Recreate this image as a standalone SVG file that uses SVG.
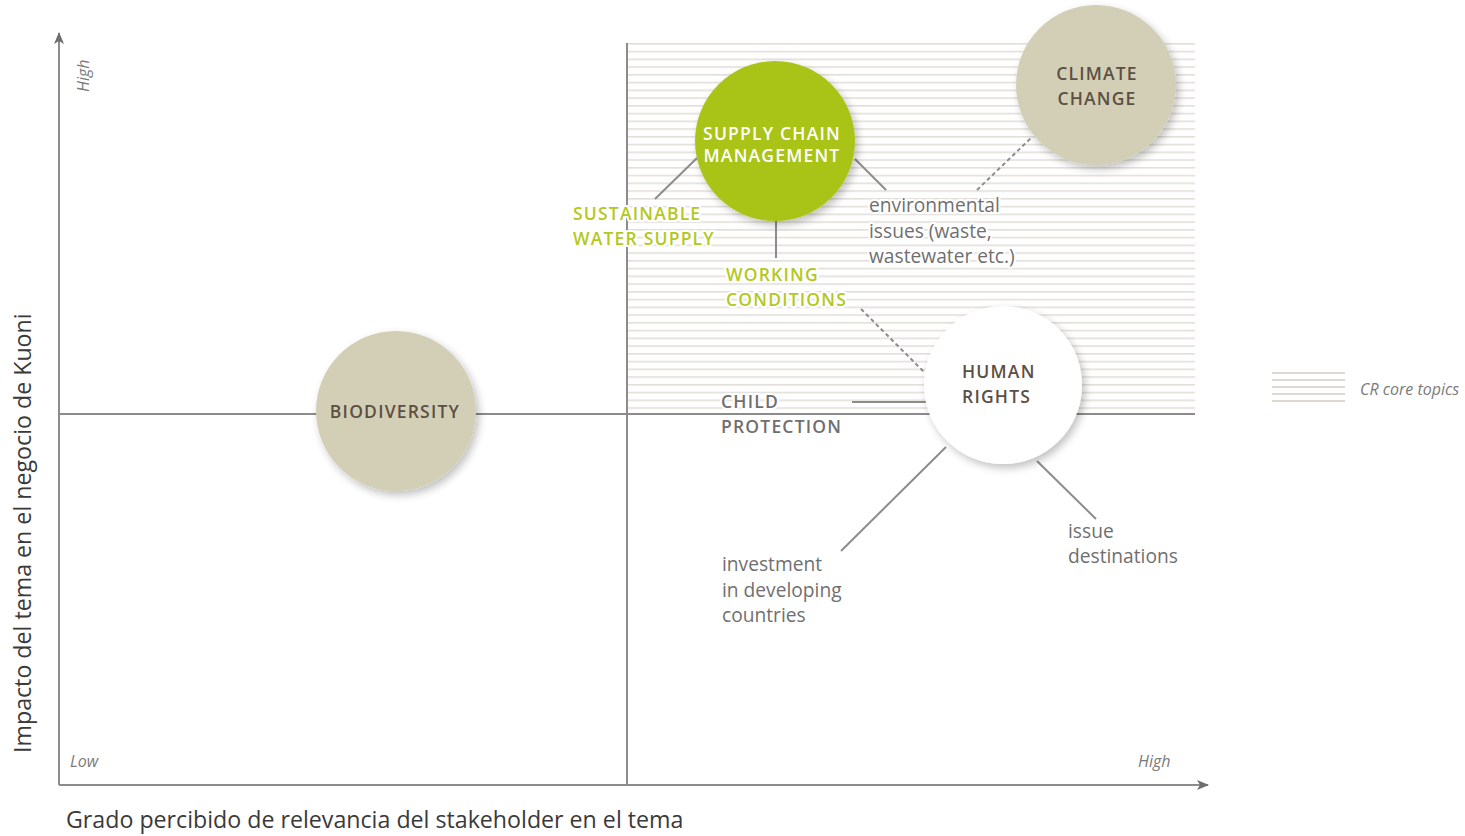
<svg xmlns="http://www.w3.org/2000/svg" width="1465" height="836" viewBox="0 0 1465 836">
<defs>
<pattern id="hatch" x="0" y="43" width="10" height="7.75" patternUnits="userSpaceOnUse">
<rect x="0" y="0" width="10" height="1.6" fill="#e3dfd9"/>
</pattern>
<marker id="arr" viewBox="0 0 12 10" refX="11" refY="5" markerWidth="12" markerHeight="10" markerUnits="userSpaceOnUse" orient="auto">
<path d="M0,0 L12,5 L0,10 L3,5 Z" fill="#6e6e6e"/>
</marker>
<filter id="shadow" x="-20%" y="-20%" width="150%" height="150%">
<feGaussianBlur in="SourceAlpha" stdDeviation="4"/>
<feOffset dx="3" dy="4" result="b"/>
<feComponentTransfer><feFuncA type="linear" slope="0.25"/></feComponentTransfer>
<feMerge><feMergeNode/><feMergeNode in="SourceGraphic"/></feMerge>
</filter>
</defs>
<style>
.ax{stroke:#8c8c8c;stroke-width:2;fill:none}
.con{stroke:#8c8c8c;stroke-width:2;fill:none}
.dash{stroke:#8c8c8c;stroke-width:2;fill:none;stroke-dasharray:4 3}
.cap{font-family:"Open Sans","DejaVu Sans",sans-serif;font-weight:600;font-size:17.5px;letter-spacing:1.2px}
.green{fill:#b3c822;stroke:#fff;stroke-width:4;paint-order:stroke;stroke-linejoin:round}
.dark{fill:#5c4f43}
.white{fill:#fff}
.gray{font-family:"Open Sans","DejaVu Sans",sans-serif;font-size:19.2px;fill:#6f6f6f}
.halo{stroke:#fff;stroke-width:4;paint-order:stroke;stroke-linejoin:round}
.it{font-family:"Open Sans","DejaVu Sans",sans-serif;font-style:italic;font-size:16px;fill:#7a7a7a}
.title{font-family:"Open Sans","DejaVu Sans",sans-serif;font-size:23.2px;fill:#3a3a3a}
</style>
<rect width="1465" height="836" fill="#fff"/>
<g id="core-area">
<rect x="628" y="43" width="567" height="370" fill="url(#hatch)"/>
</g>
<g id="axes">
<line class="ax" x1="59" y1="785" x2="59" y2="33" marker-end="url(#arr)"/>
<line class="ax" x1="59" y1="785" x2="1208" y2="785" marker-end="url(#arr)"/>
<line class="ax" x1="627" y1="43" x2="627" y2="785"/>
<line class="ax" x1="59" y1="414" x2="1195" y2="414"/>
</g>
<g id="connectors">
<line class="con" x1="697" y1="158" x2="655" y2="199"/>
<line class="con" x1="855" y1="159" x2="886" y2="190"/>
<line class="con" x1="776" y1="220" x2="776" y2="258"/>
<line class="dash" x1="977" y1="190" x2="1032" y2="137"/>
<line class="dash" x1="861" y1="309" x2="924" y2="372"/>
<line class="con" x1="852" y1="402" x2="926" y2="402"/>
<line class="con" x1="946" y1="447" x2="841" y2="551"/>
<line class="con" x1="1037" y1="461" x2="1096" y2="519"/>
</g>
<g id="supply-chain">
<circle cx="775" cy="141" r="80" fill="#a9c418" filter="url(#shadow)"/>
<text class="cap white" x="772" y="140" text-anchor="middle">SUPPLY CHAIN</text>
<text class="cap white" x="772" y="162" text-anchor="middle">MANAGEMENT</text>
</g>
<g id="climate-change">
<circle cx="1096" cy="85" r="80" fill="#d3cfb6" filter="url(#shadow)"/>
<text class="cap dark" x="1097" y="80" text-anchor="middle">CLIMATE</text>
<text class="cap dark" x="1097" y="105" text-anchor="middle">CHANGE</text>
</g>
<g id="biodiversity">
<circle cx="396" cy="411" r="80" fill="#d3cfb6" filter="url(#shadow)"/>
<text class="cap dark" x="395" y="418" text-anchor="middle">BIODIVERSITY</text>
</g>
<g id="human-rights">
<circle cx="1003" cy="385" r="79" fill="#fff" filter="url(#shadow)"/>
<text class="cap dark" x="962" y="378">HUMAN</text>
<text class="cap dark" x="962" y="403">RIGHTS</text>
</g>
<g id="sustainable-water">
<text class="cap green" x="573" y="220">SUSTAINABLE</text>
<text class="cap green" x="573" y="245">WATER SUPPLY</text>
</g>
<g id="working-conditions">
<text class="cap green" x="726" y="281">WORKING</text>
<text class="cap green" x="726" y="306">CONDITIONS</text>
</g>
<g id="child-protection">
<text class="cap halo" x="721" y="408" fill="#6f6f6f">CHILD</text>
<text class="cap halo" x="721" y="433" fill="#6f6f6f">PROTECTION</text>
</g>
<g id="environmental">
<text class="gray halo" x="869" y="212">environmental</text>
<text class="gray halo" x="869" y="238">issues (waste,</text>
<text class="gray halo" x="869" y="263">wastewater etc.)</text>
</g>
<g id="investment">
<text class="gray" x="722" y="571">investment</text>
<text class="gray" x="722" y="597">in developing</text>
<text class="gray" x="722" y="622">countries</text>
</g>
<g id="issue-destinations">
<text class="gray" x="1068" y="538">issue</text>
<text class="gray" x="1068" y="563">destinations</text>
</g>
<g id="legend">
<g stroke="#ddd8d1" stroke-width="1.8">
<line x1="1272" y1="373" x2="1345" y2="373"/>
<line x1="1272" y1="380" x2="1345" y2="380"/>
<line x1="1272" y1="387" x2="1345" y2="387"/>
<line x1="1272" y1="394" x2="1345" y2="394"/>
<line x1="1272" y1="401" x2="1345" y2="401"/>
</g>
<text class="it" x="1360" y="395">CR core topics</text>
</g>
<g id="axis-labels">
<text class="it" transform="translate(89,92) rotate(-90)">High</text>
<text class="it" x="70" y="767">Low</text>
<text class="it" x="1138" y="767">High</text>
<text class="title" transform="translate(31,753) rotate(-90)">Impacto del tema en el negocio de Kuoni</text>
<text class="title" x="66" y="828">Grado percibido de relevancia del stakeholder en el tema</text>
</g>
</svg>
